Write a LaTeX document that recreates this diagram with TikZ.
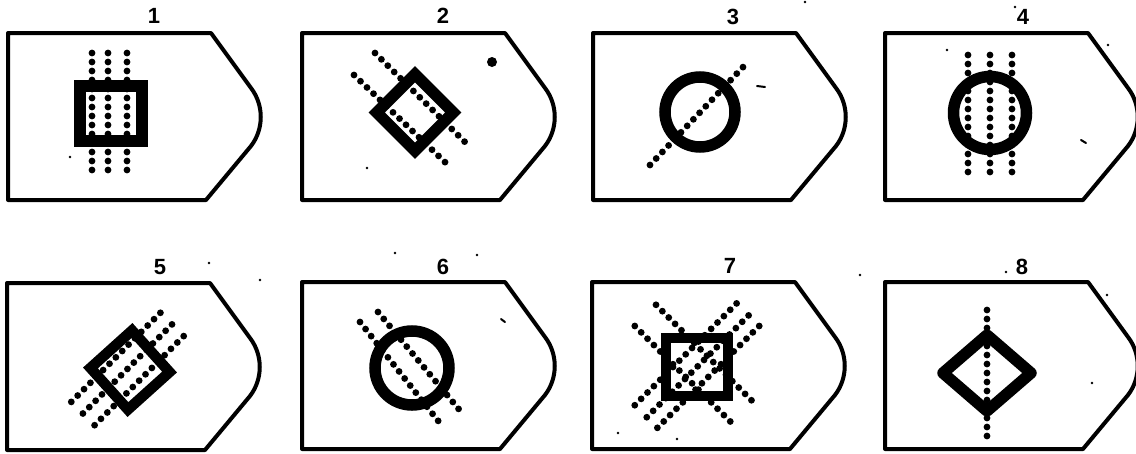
\documentclass[tikz,border=0pt]{standalone}
\usepackage{fontspec}
\setmainfont{Liberation Sans}
\begin{document}
\begin{tikzpicture}[x=1pt,y=-1pt,
  border/.style={line width=4pt, line join=round},
  dots/.style={line width=6.8pt, line cap=round, dash pattern=on 0pt off 9pt},
  thick shape/.style={line width=11.5pt},
  lbl/.style={font=\bfseries\fontsize{22}{22}\selectfont, inner sep=0pt},
  panel/.pic={\draw[border] (0,0) -- (203,0) -- (243,55) .. controls (256,72) and (256,96) .. (243,113) -- (198,167) -- (0,167) -- cycle;}]
\useasboundingbox (0,0) rectangle (1136,453);
% panels
\pic at (8,33) {panel};
\pic at (302,33) {panel};
\pic at (593,33) {panel};
\pic at (885,33) {panel};
\pic at (7,283) {panel};
\pic at (302,282) {panel};
\pic at (592,282) {panel};
\pic at (885,282) {panel};
% labels
\node[lbl] (l1) at (154,16) {1};
\node[lbl] (l2) at (443,16) {2};
\node[lbl] (l3) at (733,17) {3};
\node[lbl] (l4) at (1023,17) {4};
\node[lbl] (l5) at (160,267) {5};
\node[lbl] (l6) at (443,267) {6};
\node[lbl] (l7) at (730,266) {7};
\node[lbl] (l8) at (1022,267) {8};
% panel 1
\draw[dots] (92,53) -- (92,175);
\draw[dots] (108,53) -- (108,175);
\draw[dots] (127,53) -- (127,175);
\draw[thick shape] (80,86) rectangle (142,141);
% panel 2
\draw[dots] (375,53) -- (470,147);
\draw[dots] (354,75) -- (448,165);
\draw[thick shape,shift={(415,112.5)},rotate=45] (-27,-27) rectangle (27,27);
\fill (492,62) circle (5);
% panel 3
\draw[dots] (650,165) -- (745,65);
\draw[thick shape] (700,112) circle (35);
\draw[line width=2pt,line cap=round] (757,86) -- (765,87);
% panel 4
\draw[dots] (968,55) -- (968,173);
\draw[dots] (990,55) -- (990,173);
\draw[dots] (1012,55) -- (1012,173);
\draw[thick shape] (990,113) circle (36.5);
\draw[line width=2pt,line cap=round] (1081,140) -- (1086,143);
% panel 5
\draw[dots] (160.4,312.8) -- (70.6,402.6);
\draw[dots] (172.0,324.4) -- (82.2,414.2);
\draw[dots] (183.7,336.1) -- (93.9,425.9);
\draw[line width=10.5pt,shift={(130,370)},rotate=42] (-28,-28) rectangle (28,28);
% panel 6
\draw[dots] (378,312) -- (462,413);
\draw[dots] (360,322) -- (443,427);
\draw[thick shape] (412,368) circle (37);
\draw[line width=2pt,line cap=round] (501,319) -- (505,322);
% panel 7
\draw[dots] (736.6,303.4) -- (629.1,410.9);
\draw[dots] (748.6,315.4) -- (641.1,422.9);
\draw[dots] (759.2,326.0) -- (651.7,433.5);
\draw[dots] (656.0,304.8) -- (754.3,403.1);
\draw[dots] (634.8,326.0) -- (733.1,424.3);
\draw[line width=10.5pt] (666,338) rectangle (728,396);
% panel 8
\draw[dots] (987,310) -- (987,437);
\draw[thick shape,line join=round] (987,335) -- (1031,373) -- (987,411) -- (943,373) -- cycle;
% specks
\foreach \p in {(70,157),(367,168),(805,2),(1015,7),(1108,45),(947,50),(209,263),(260,280),(395,253),(477,255),(860,275),(1006,272),(618,433),(677,439),(1092,383),(1107,295)}
  \fill \p circle (1.4);
\end{tikzpicture}
\end{document}
